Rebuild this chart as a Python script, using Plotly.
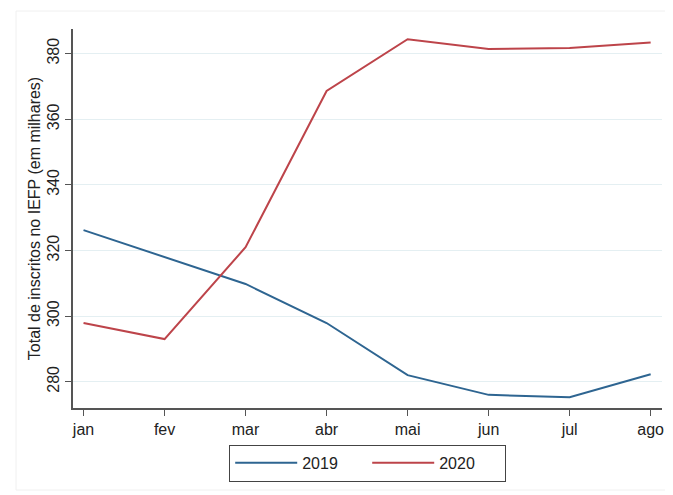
import plotly.graph_objects as go

months = ["jan", "fev", "mar", "abr", "mai", "jun", "jul", "ago"]
v2019 = [326.2, 318.0, 309.8, 297.9, 282.0, 276.0, 275.3, 282.3]
v2020 = [297.9, 293.0, 321.0, 368.6, 384.4, 381.4, 381.7, 383.4]
yticks = [280, 300, 320, 340, 360, 380]

# page has an 8px body margin; size the figure so the plot lands where the reference has it
OFF = 8
W, H = 673 - OFF, 495 - OFF
L, R, T, B = 73 - OFF, 11, 29 - OFF, 87

fig = go.Figure()
fig.add_trace(go.Scatter(x=list(range(len(months))), y=v2019, mode="lines", name="2019",
                         line=dict(color="#2e6591", width=2)))
fig.add_trace(go.Scatter(x=list(range(len(months))), y=v2020, mode="lines", name="2020",
                         line=dict(color="#bd444a", width=2)))

font = "Liberation Sans, Arial, Helvetica, sans-serif"
fig.update_layout(
    width=W, height=H,
    margin=dict(l=L, r=R, t=T, b=B, autoexpand=False),
    paper_bgcolor="white", plot_bgcolor="white",
    font=dict(family=font, size=16, color="#222"),
    showlegend=True,
    legend=dict(orientation="h", x=0.5, xanchor="center", y=-0.097, yanchor="top",
                bordercolor="#444", borderwidth=1.2, font=dict(size=16, color="#222"),
                itemwidth=62, entrywidth=60, entrywidthmode="pixels", traceorder="normal"),
    xaxis=dict(range=[-0.13, 7.14], tickmode="array", tickvals=list(range(len(months))),
               ticktext=months, showgrid=False, zeroline=False, automargin=False,
               showline=True, linecolor="#555", linewidth=1.5,
               ticks="outside", ticklen=6, tickcolor="#555", tickwidth=1.2,
               tickfont=dict(size=16)),
    yaxis=dict(range=[272, 387.5], tickmode="array", tickvals=yticks,
               showgrid=True, gridcolor="#e4eff2", gridwidth=1.2, zeroline=False, automargin=False,
               showline=True, linecolor="#555", linewidth=1.5,
               ticks="outside", ticklen=6, tickcolor="#555", tickwidth=1.2,
               tickangle=-90, tickfont=dict(size=16),
               title=dict(text="Total de inscritos no IEFP (em milhares)", font=dict(size=16), standoff=0)),
    shapes=[dict(type="rect", xref="paper", yref="paper",
                 x0=-(L - 8) / (W - L - R), x1=1 + (R + 5) / (W - L - R),
                 y0=-(B - 5) / (H - T - B), y1=1 + (T - 3) / (H - T - B),
                 line=dict(color="#f0f0f0", width=1), layer="below")],
)

fig.write_html("out.html")
